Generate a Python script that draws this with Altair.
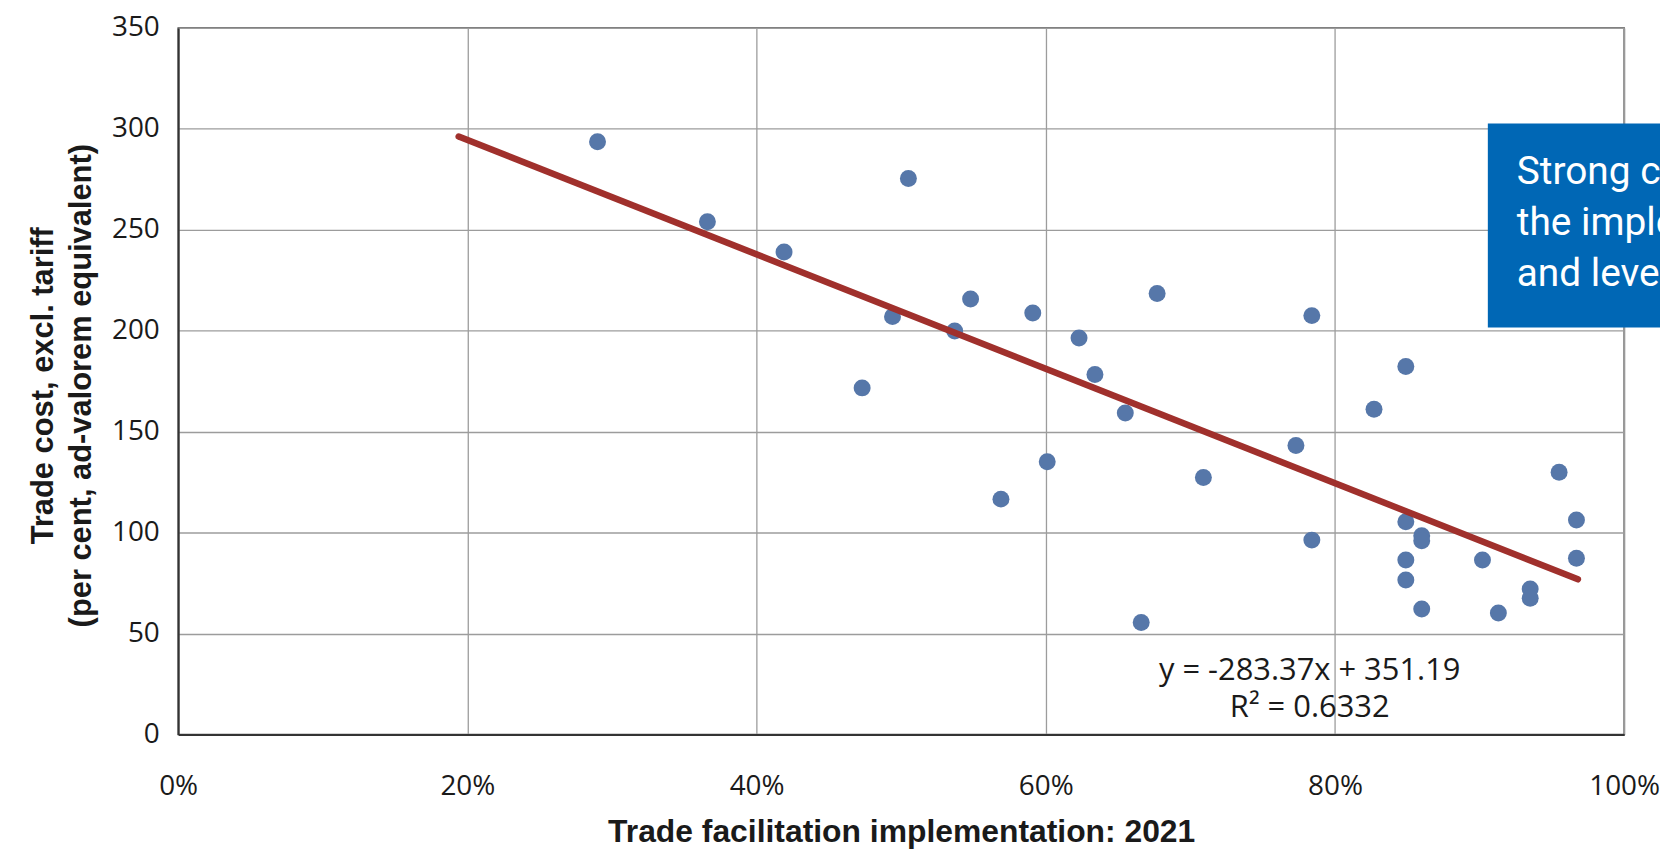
import altair as alt
import pandas as pd

# Data
tf_impl = [0.290, 0.366, 0.419, 0.473, 0.494, 0.505, 0.537, 0.548, 0.569, 0.591,
           0.601, 0.623, 0.634, 0.655, 0.666, 0.677, 0.709, 0.773, 0.784, 0.784,
           0.827, 0.849, 0.849, 0.849, 0.849, 0.860, 0.860, 0.860, 0.902, 0.913,
           0.935, 0.935, 0.955, 0.967, 0.967]
trade_cost = [293.6, 254.0, 239.0, 171.7, 207.0, 275.4, 199.9, 215.7, 116.6, 208.8,
              135.1, 196.4, 178.3, 159.3, 55.5, 218.5, 127.3, 143.2, 207.5, 96.3,
              161.1, 182.3, 105.4, 86.4, 76.5, 98.5, 96.0, 62.2, 86.4, 60.2,
              72.1, 67.5, 129.9, 106.3, 87.3]

# Linear trend shown in the chart: y = -283.37x + 351.19
trend_slope = -283.37
trend_intercept = 351.19
trend_x = [0.194, 0.968]

eq_lines = ["y = -283.37x + 351.19", "R² = 0.6332"]
box_lines = ["Strong correlation between", "the implementation of TFA", "and level of trade costs"]

x_ticks = [0, 0.2, 0.4, 0.6, 0.8, 1.0]
y_ticks = [0, 50, 100, 150, 200, 250, 300, 350]

pts = pd.DataFrame({"x": tf_impl, "y": trade_cost})
trend = pd.DataFrame({"x": trend_x, "y": [trend_slope * v + trend_intercept for v in trend_x]})
one = pd.DataFrame({"a": [0]})

W, H = 1453, 710

xscale = alt.Scale(domain=[0, 1], nice=False, zero=False)
yscale = alt.Scale(domain=[0, 350], nice=False)

common_axis = dict(labelFont="Open Sans", labelFontSize=28, labelColor="#1a1a1a", labelFlush=False,
                   tickSize=0, domainColor="#333333", domainWidth=2,
                   grid=True, gridColor="#9c9c9c", gridWidth=1.3,
                   titleFont="Liberation Sans", titleFontWeight="bold", titleColor="#1a1a1a")

x_enc = alt.X("x:Q", scale=xscale,
              axis=alt.Axis(values=x_ticks, format=".0%", title="Trade facilitation implementation: 2021",
                            labelPadding=38, titleY=107, titleBaseline="alphabetic",
                            titleFontSize=32, **common_axis))
y_enc = alt.Y("y:Q", scale=yscale,
              axis=alt.Axis(values=y_ticks, title=["Trade cost, excl. tariff", "(per cent, ad-valorem equivalent)"],
                            labelPadding=19, titleAngle=-90, titleX=-126, titleY=359,
                            titleBaseline="alphabetic", titleAlign="center", titleLineHeight=38,
                            titleFontSize=31, **common_axis))

points = alt.Chart(pts).mark_circle(size=290, color="#5677a9", opacity=1).encode(x=x_enc, y=y_enc)

line = alt.Chart(trend).mark_line(color="#a0302c", strokeWidth=6.5, strokeCap="round").encode(
    x=alt.X("x:Q", scale=xscale), y=alt.Y("y:Q", scale=yscale))

eq1 = alt.Chart(one).mark_text(font="Open Sans", fontSize=31, color="#1a1a1a", align="center",
                               baseline="alphabetic").encode(
    x=alt.value(1137), y=alt.value(655), text=alt.value(eq_lines[0]))
eq2 = alt.Chart(one).mark_text(font="Open Sans", fontSize=31, color="#1a1a1a", align="center",
                               baseline="alphabetic").encode(
    x=alt.value(1137), y=alt.value(692), text=alt.value(eq_lines[1]))

box = alt.Chart(one).mark_rect(color="#0067b5").encode(
    x=alt.value(1316), x2=alt.value(1800), y=alt.value(96), y2=alt.value(301))
box_text = alt.Chart(one).mark_text(font="Roboto", fontSize=39, color="white", align="left",
                                    baseline="alphabetic", lineHeight=51).encode(
    x=alt.value(1345), y=alt.value(157), text=alt.value(box_lines))

chart = alt.layer(points, line, eq1, eq2, box, box_text).properties(
    width=W, height=H,
    background="white",
    autosize=alt.AutoSizeParams(type="none"),
    padding={"left": 171, "top": 18, "right": 36, "bottom": 113},
).configure_view(stroke="#4d4d4d", strokeWidth=1.5)

chart.save("out.html", embed_options={"renderer": "svg", "actions": False})
